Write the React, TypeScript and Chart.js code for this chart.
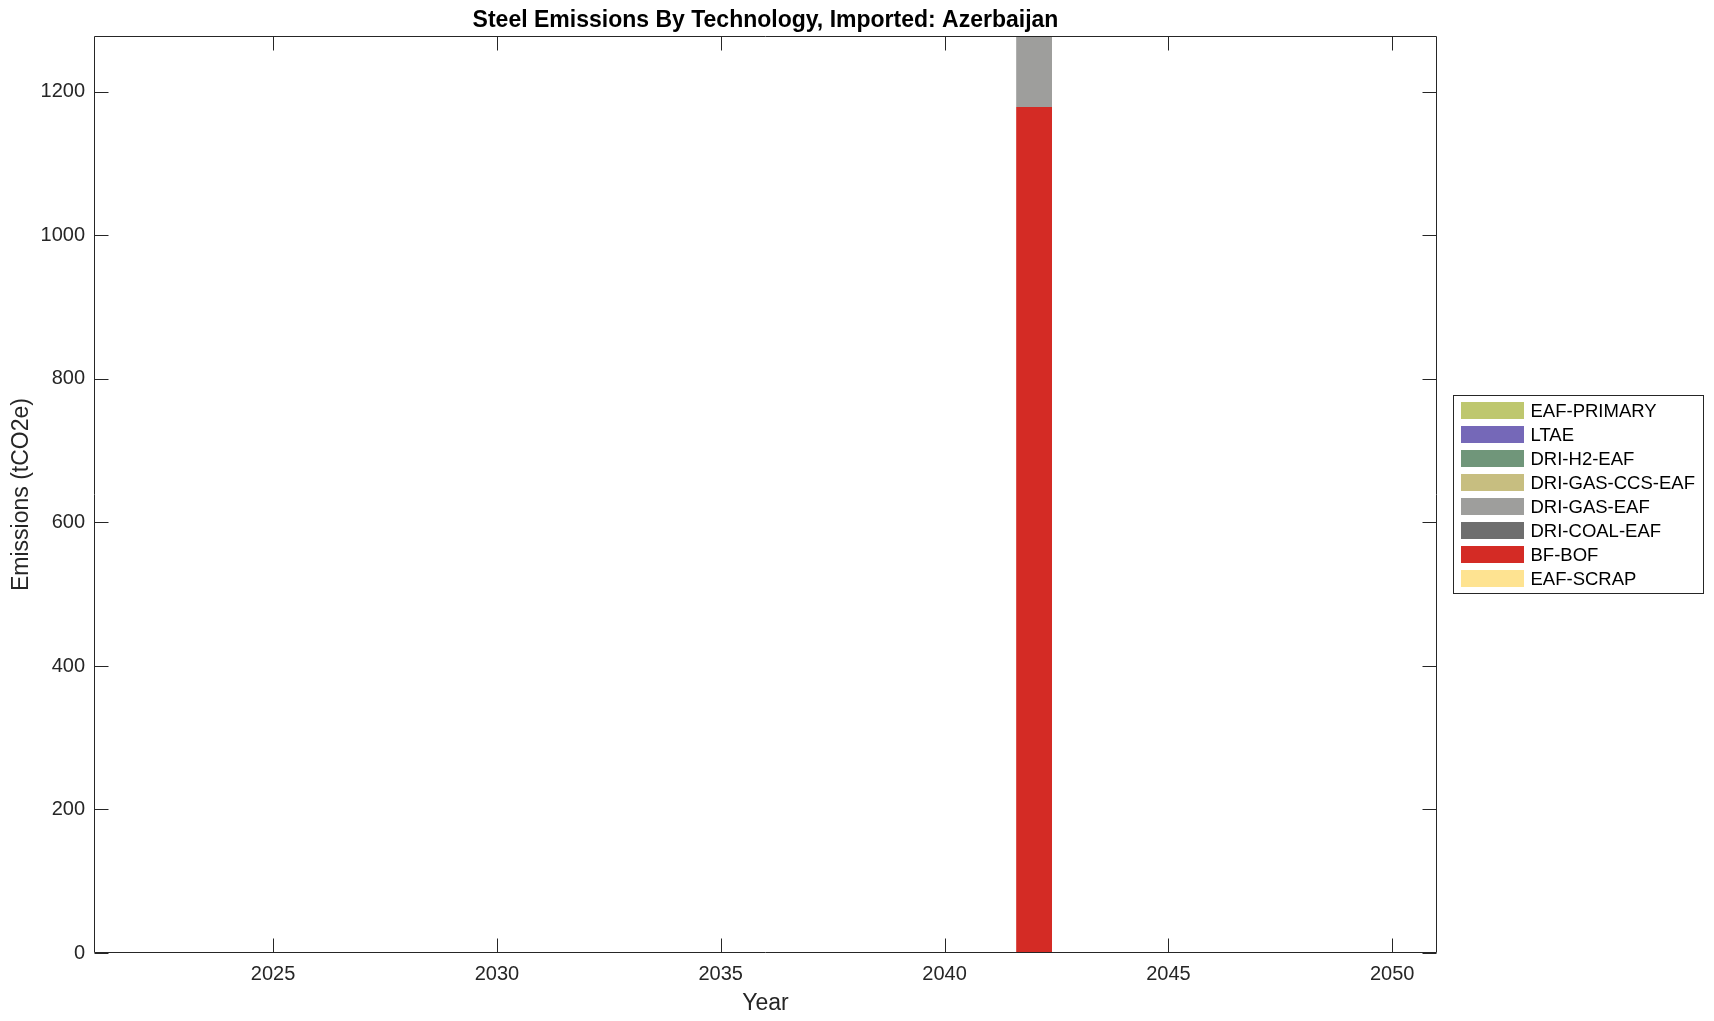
import React, { useEffect, useRef } from "react";
import { Chart, registerables } from "chart.js";

Chart.register(...registerables);

const TITLE = "Steel Emissions By Technology, Imported: Azerbaijan";
const X_LABEL = "Year";
const Y_LABEL = "Emissions (tCO2e)";

const YEARS = [
  2022, 2023, 2024, 2025, 2026, 2027, 2028, 2029, 2030, 2031, 2032, 2033, 2034, 2035, 2036,
  2037, 2038, 2039, 2040, 2041, 2042, 2043, 2044, 2045, 2046, 2047, 2048, 2049, 2050,
];
const X_TICKS = [2025, 2030, 2035, 2040, 2045, 2050];
const Y_TICKS = [0, 200, 400, 600, 800, 1000, 1200];
const X_MIN = 2021;
const X_MAX = 2051;
const Y_MIN = 0;
const Y_MAX = 1278;

// stacked bottom -> top
const EAF_SCRAP = [0, 0, 0, 0, 0, 0, 0, 0, 0, 0, 0, 0, 0, 0, 0, 0, 0, 0, 0, 0, 0, 0, 0, 0, 0, 0, 0, 0, 0];
const BF_BOF = [0, 0, 0, 0, 0, 0, 0, 0, 0, 0, 0, 0, 0, 0, 0, 0, 0, 0, 0, 0, 1179, 0, 0, 0, 0, 0, 0, 0, 0];
const DRI_COAL_EAF = [0, 0, 0, 0, 0, 0, 0, 0, 0, 0, 0, 0, 0, 0, 0, 0, 0, 0, 0, 0, 0, 0, 0, 0, 0, 0, 0, 0, 0];
const DRI_GAS_EAF = [0, 0, 0, 0, 0, 0, 0, 0, 0, 0, 0, 0, 0, 0, 0, 0, 0, 0, 0, 0, 99, 0, 0, 0, 0, 0, 0, 0, 0];
const DRI_GAS_CCS_EAF = [0, 0, 0, 0, 0, 0, 0, 0, 0, 0, 0, 0, 0, 0, 0, 0, 0, 0, 0, 0, 0, 0, 0, 0, 0, 0, 0, 0, 0];
const DRI_H2_EAF = [0, 0, 0, 0, 0, 0, 0, 0, 0, 0, 0, 0, 0, 0, 0, 0, 0, 0, 0, 0, 0, 0, 0, 0, 0, 0, 0, 0, 0];
const LTAE = [0, 0, 0, 0, 0, 0, 0, 0, 0, 0, 0, 0, 0, 0, 0, 0, 0, 0, 0, 0, 0, 0, 0, 0, 0, 0, 0, 0, 0];
const EAF_PRIMARY = [0, 0, 0, 0, 0, 0, 0, 0, 0, 0, 0, 0, 0, 0, 0, 0, 0, 0, 0, 0, 0, 0, 0, 0, 0, 0, 0, 0, 0];

const SERIES_NAMES = [
  "EAF-SCRAP",
  "BF-BOF",
  "DRI-COAL-EAF",
  "DRI-GAS-EAF",
  "DRI-GAS-CCS-EAF",
  "DRI-H2-EAF",
  "LTAE",
  "EAF-PRIMARY",
];
const SERIES_VALUES = [EAF_SCRAP, BF_BOF, DRI_COAL_EAF, DRI_GAS_EAF, DRI_GAS_CCS_EAF, DRI_H2_EAF, LTAE, EAF_PRIMARY];
const SERIES_COLORS = ["#FEE391", "#D42B25", "#6E6E6E", "#9E9E9C", "#C7BE80", "#70967A", "#7568B8", "#BEC76E"];

const FONT = "'Liberation Sans', Arial, Helvetica, sans-serif";
const AXIS_COLOR = "#262626";

const decorPlugin = {
  id: "decor",
  afterDraw(chart: any) {
    const ctx = chart.ctx as CanvasRenderingContext2D;
    const { left, right, top, bottom } = chart.chartArea;
    const xs = chart.scales.x;
    const ys = chart.scales.y;
    const tick = 14;
    ctx.save();
    // axes box
    ctx.strokeStyle = AXIS_COLOR;
    ctx.lineWidth = 1;
    const L = Math.round(left) + 0.5;
    const R = Math.round(right) - 0.5;
    const T = Math.round(top) + 0.5;
    const B = Math.round(bottom) - 0.5;
    ctx.beginPath();
    ctx.rect(L, T, R - L, B - T);
    // ticks
    for (const v of X_TICKS) {
      const px = Math.round(xs.getPixelForValue(v)) + 0.5;
      ctx.moveTo(px, B);
      ctx.lineTo(px, B - tick);
      ctx.moveTo(px, T);
      ctx.lineTo(px, T + tick);
    }
    for (const v of Y_TICKS) {
      const py = Math.round(ys.getPixelForValue(v)) + 0.5;
      ctx.moveTo(L, py);
      ctx.lineTo(L + tick, py);
      ctx.moveTo(R, py);
      ctx.lineTo(R - tick, py);
    }
    ctx.stroke();

    // title
    const cx = (left + right) / 2;
    ctx.fillStyle = "#000000";
    ctx.font = `bold 23px ${FONT}`;
    ctx.textAlign = "center";
    ctx.textBaseline = "alphabetic";
    ctx.fillText(TITLE, cx, 27);

    // axis labels
    ctx.fillStyle = AXIS_COLOR;
    ctx.font = `23px ${FONT}`;
    ctx.fillText(X_LABEL, cx, 1010);
    ctx.save();
    ctx.translate(27.5, (top + bottom) / 2);
    ctx.rotate(-Math.PI / 2);
    ctx.textAlign = "center";
    ctx.textBaseline = "alphabetic";
    ctx.fillText(Y_LABEL, 0, 0);
    ctx.restore();

    // legend (top of stack first)
    const boxX = 1453.5;
    const boxY = 395.5;
    const boxW = 250;
    const boxH = 198;
    ctx.fillStyle = "#ffffff";
    ctx.fillRect(boxX, boxY, boxW, boxH);
    ctx.strokeStyle = AXIS_COLOR;
    ctx.strokeRect(boxX, boxY, boxW, boxH);
    const ds = chart.data.datasets;
    const order = ds.map((_: any, i: number) => i).reverse();
    ctx.font = `18.5px ${FONT}`;
    ctx.textAlign = "left";
    ctx.textBaseline = "middle";
    order.forEach((di: number, row: number) => {
      const cy = 410.5 + row * 24;
      ctx.fillStyle = ds[di].backgroundColor;
      ctx.fillRect(1461, cy - 8.5, 63, 17);
      ctx.fillStyle = "#000000";
      ctx.fillText(ds[di].label, 1530.5, cy + 1);
    });
    ctx.restore();
  },
};

export default function App() {
  const ref = useRef<HTMLCanvasElement | null>(null);

  useEffect(() => {
    if (!ref.current) return;
    const datasets = SERIES_NAMES.map((name, i) => ({
      label: name,
      data: YEARS.map((yr, j) => ({ x: yr, y: SERIES_VALUES[i][j] })),
      backgroundColor: SERIES_COLORS[i],
      borderWidth: 0,
      barPercentage: 0.8,
      categoryPercentage: 1.0,
    }));
    const chart = new Chart(ref.current, {
      type: "bar",
      data: { datasets },
      options: {
        animation: false,
        responsive: false,
        devicePixelRatio: 1,
        layout: { padding: { top: 36, right: 277, left: 0, bottom: 0 } },
        plugins: {
          legend: { display: false },
          title: { display: false },
          tooltip: { enabled: false },
        },
        scales: {
          x: {
            type: "linear",
            stacked: true,
            min: X_MIN,
            max: X_MAX,
            offset: false,
            grid: { display: false, drawTicks: false },
            border: { display: false },
            afterBuildTicks: (scale: any) => {
              scale.ticks = X_TICKS.map((v) => ({ value: v }));
            },
            afterFit: (scale: any) => {
              scale.height = 68;
            },
            ticks: {
              autoSkip: false,
              maxRotation: 0,
              padding: 9,
              color: AXIS_COLOR,
              font: { family: FONT, size: 20 },
              callback: (v: any) => String(v),
            },
          },
          y: {
            type: "linear",
            stacked: true,
            min: Y_MIN,
            max: Y_MAX,
            grid: { display: false, drawTicks: false },
            border: { display: false },
            afterBuildTicks: (scale: any) => {
              scale.ticks = Y_TICKS.map((v) => ({ value: v }));
            },
            afterFit: (scale: any) => {
              scale.width = 94;
            },
            ticks: {
              padding: 9,
              color: AXIS_COLOR,
              font: { family: FONT, size: 20 },
              callback: (v: any) => String(v),
            },
          },
        },
      },
      plugins: [decorPlugin],
    });
    return () => chart.destroy();
  }, []);

  return (
    <div style={{ position: "absolute", left: 0, top: 0, width: 1714, height: 1021, background: "#ffffff" }}>
      <canvas ref={ref} width={1714} height={1021} style={{ display: "block", width: 1714, height: 1021 }} />
    </div>
  );
}
